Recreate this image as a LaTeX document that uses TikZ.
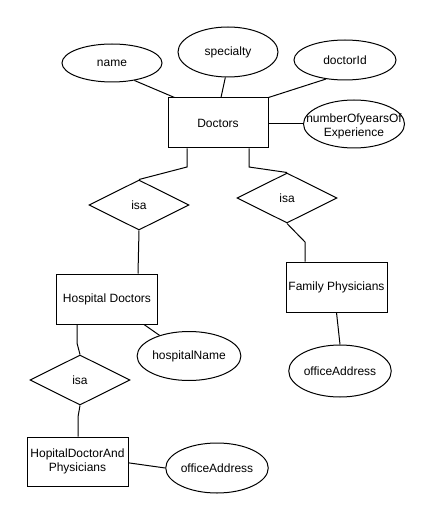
\documentclass[tikz,border=0pt]{standalone}
\usepackage{fontspec}
\setmainfont{Liberation Sans}
\usetikzlibrary{shapes.geometric}
\begin{document}
\begin{tikzpicture}[x=0.75pt,y=-0.75pt,
  every node/.style={font=\fontsize{9pt}{10.5pt}\selectfont, inner sep=0pt, align=center},
  ent/.style={draw, line width=0.75pt, minimum width=75pt, minimum height=37.5pt},
  attr/.style={draw, line width=0.75pt, ellipse, minimum width=75pt},
  rel/.style={draw, line width=0.75pt, diamond, aspect=2, minimum width=75pt, minimum height=37.5pt},
  conn/.style={line width=0.75pt}]
\useasboundingbox[fill=white] (0,0) rectangle (430,520);
% entities
\node[ent] (doc) at (218,123) {Doctors};
\node[ent, minimum width=75.75pt] (hd) at (107,299) {Hospital Doctors};
\node[ent, minimum width=75.75pt] (fp) at (336.5,287) {Family Physicians};
\node[ent, minimum width=75.75pt, minimum height=36.75pt] (hdp) at (77.5,461.5) {HopitalDoctorAnd\\Physicians};
% attributes
\node[attr, minimum height=28.5pt] (name) at (112,63) {name};
\node[attr, minimum height=37.5pt] (spec) at (228,52) {specialty};
\node[attr, minimum width=76.5pt, minimum height=30pt] (did) at (345,60) {doctorId};
\node[attr, minimum width=75.75pt, minimum height=36pt] (num) at (354,124) {};
\node (numtext) at (354,126) {numberOfyearsOf\\Experience};
\node[attr, minimum width=75.75pt, minimum height=36.75pt] (hn) at (189,356) {hospitalName};
\node[attr, minimum width=75.75pt, minimum height=39pt] (oa1) at (340,371) {officeAddress};
\node[attr, minimum width=75.75pt, minimum height=37.5pt] (oa2) at (217,468) {officeAddress};
% relationships
\node[rel] (d1) at (139,205) {isa};
\node[rel] (d2) at (287,198) {isa};
\node[rel] (d3) at (80,380) {isa};
% bend points
\coordinate (b1) at (187,167);
\coordinate (b2) at (249,167);
\coordinate (b3) at (305,242);
\coordinate (b4) at (77,343);
\coordinate (b5) at (78,417);
% connectors
\draw[conn] (name.-38) -- ([xshift=5.25pt]doc.north west);
\draw[conn] (spec.-96) -- ([xshift=2.25pt]doc.north);
\draw[conn] (did.-135) -- (doc.north east);
\draw[conn] (num.west) -- (num.west -| doc.east);
\draw[conn] (doc.south -| b1) -- (b1) -- (d1.north);
\draw[conn] (doc.south -| b2) -- (b2) -- (d2.north);
\draw[conn] (d1.south) -- ([xshift=-15pt]hd.north east);
\draw[conn] (d2.south) -- (b3) -- (fp.north -| b3);
\draw[conn] (fp.south) -- (oa1.north);
\draw[conn] ([xshift=-10.5pt]hd.south east) -- (hn.145);
\draw[conn] (hd.south -| b4) -- (b4) -- (d3.north);
\draw[conn] (d3.south) -- (b5) -- (hdp.north -| b5);
\draw[conn] ([yshift=-1pt]hdp.east) -- (oa2.west);
\end{tikzpicture}
\end{document}
